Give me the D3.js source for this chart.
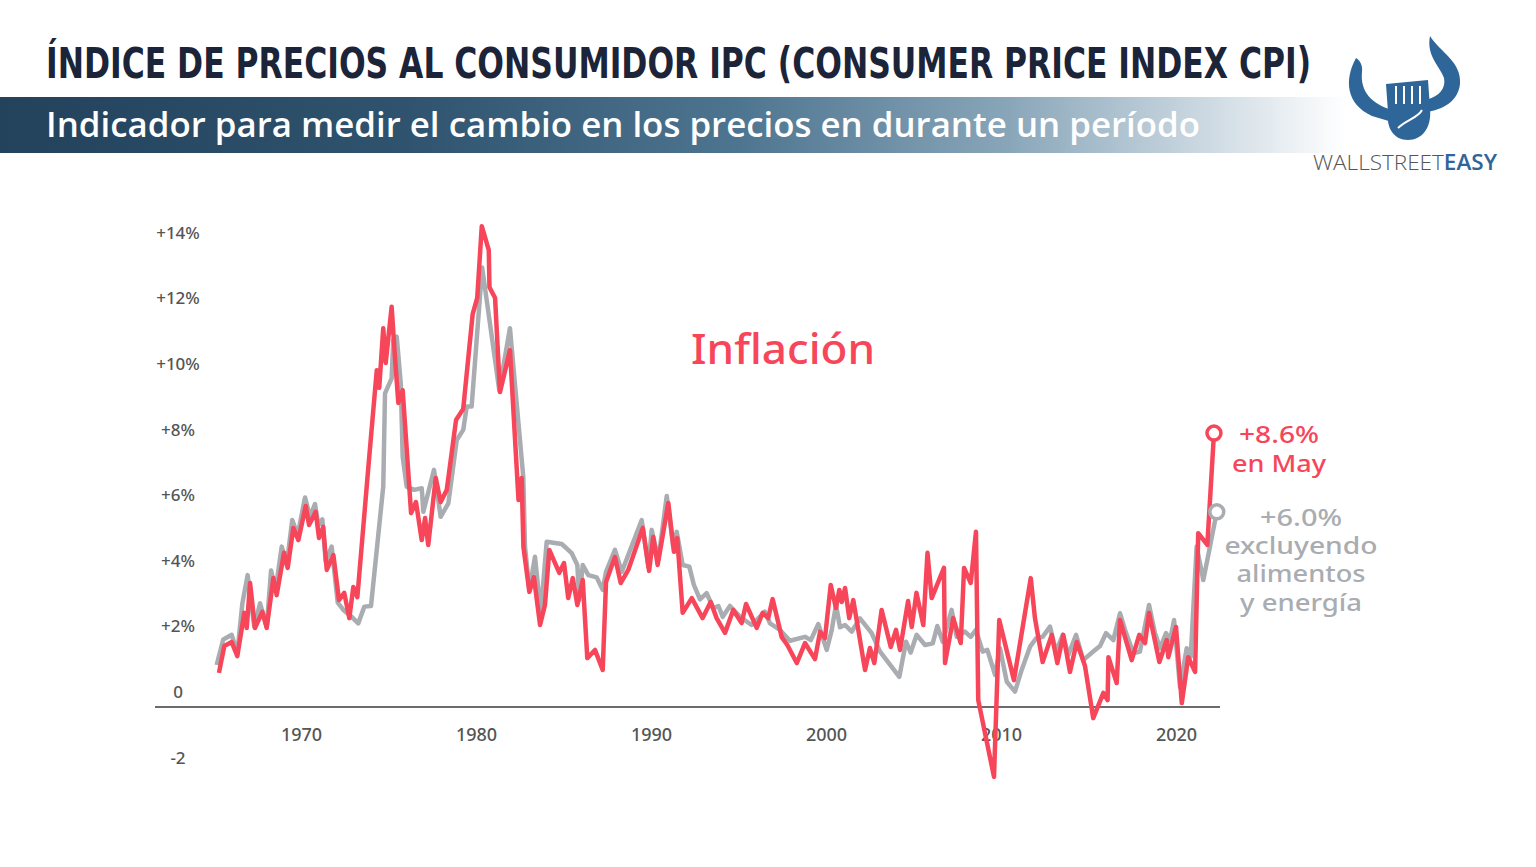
<!DOCTYPE html>
<html><head><meta charset="utf-8">
<script src="https://cdn.jsdelivr.net/npm/d3@7"></script>
<style>body{margin:0;background:#fff;} svg{display:block}</style>
</head><body><svg id="c" width="1536" height="867"></svg>
<script>
// ---------- DATA ----------
const redYears = [1965.31,1965.62,1966.04,1966.36,1966.76,1966.90,1967.09,1967.37,1967.79,1968.04,1968.42,1968.61,1969.03,1969.24,1969.56,1969.85,1970.27,1970.46,1970.84,1971.03,1971.27,1971.47,1971.85,1972.17,1972.47,1972.76,1972.99,1973.22,1973.85,1974.33,1974.47,1974.70,1974.84,1975.18,1975.37,1975.56,1975.81,1976.29,1976.57,1976.90,1977.09,1977.27,1977.70,1977.98,1978.33,1978.86,1979.27,1979.81,1980.07,1980.33,1980.73,1980.77,1981.09,1981.37,1981.94,1982.43,1982.61,1982.71,1983.05,1983.31,1983.66,1983.94,1984.19,1984.76,1985.03,1985.27,1985.53,1985.79,1986.10,1986.36,1986.80,1987.24,1987.43,1987.94,1988.27,1988.70,1989.53,1989.89,1990.13,1990.38,1990.99,1991.31,1991.50,1991.81,1992.33,1992.95,1993.41,1993.75,1994.23,1994.70,1995.18,1995.43,1996.04,1996.38,1996.70,1996.95,1997.47,1997.79,1998.33,1998.80,1999.37,1999.66,1999.94,2000.27,2000.57,2000.76,2000.90,2001.09,2001.33,2001.56,2002.23,2002.51,2002.76,2003.18,2003.70,2004.00,2004.23,2004.69,2004.90,2005.17,2005.56,2005.80,2006.04,2006.74,2006.80,2007.27,2007.70,2007.89,2008.27,2008.57,2008.70,2009.60,2009.90,2010.74,2011.70,2011.94,2012.38,2012.90,2013.22,2013.56,2013.94,2014.33,2014.80,2015.27,2015.85,2016.09,2016.14,2016.61,2016.80,2017.47,2017.90,2018.23,2018.46,2019.05,2019.47,2019.56,2020.00,2020.33,2020.70,2021.09,2021.27,2021.79,2022.17];
const redValues = [1.04,1.86,1.98,1.55,2.87,2.41,3.78,2.41,2.90,2.41,3.93,3.41,4.70,4.24,5.46,5.09,6.13,5.55,5.95,5.15,5.49,4.18,4.63,3.26,3.48,2.71,3.66,3.35,7.32,10.27,9.73,11.55,10.49,12.20,10.67,9.27,9.66,5.91,6.25,5.09,5.76,4.94,6.98,6.25,6.62,8.75,9.09,11.98,12.47,14.66,13.93,12.80,12.47,9.60,10.88,6.31,6.98,4.88,3.51,3.96,2.50,3.11,4.79,4.09,4.39,3.32,3.93,3.11,3.87,1.49,1.74,1.13,3.81,4.57,3.78,4.18,5.46,4.15,5.18,4.33,6.22,4.73,5.15,2.87,3.32,2.71,3.20,2.71,2.26,2.96,2.56,3.14,2.41,2.87,2.71,3.29,2.13,1.89,1.34,1.95,1.46,2.29,2.10,3.72,3.02,3.57,3.20,3.63,2.71,3.26,1.13,1.80,1.34,2.96,1.83,2.35,1.74,3.23,2.44,3.48,2.50,4.70,3.32,4.24,1.34,2.71,1.95,4.24,3.78,5.34,0.21,-2.13,2.65,0.82,3.93,2.71,1.37,2.20,1.34,2.20,1.07,1.98,1.25,-0.34,0.43,0.21,1.52,0.73,2.65,1.43,2.20,1.95,2.87,1.37,2.04,1.52,2.44,0.12,1.52,1.07,5.30,4.94,8.35];

const grayYears = [1965.18,1965.56,1966.04,1966.36,1966.65,1966.95,1967.33,1967.66,1968.04,1968.29,1968.55,1968.90,1969.18,1969.50,1969.81,1970.23,1970.51,1970.80,1970.99,1971.22,1971.41,1971.75,1972.10,1972.42,1972.90,1973.27,1973.62,1974.00,1974.70,1974.80,1975.18,1975.27,1975.47,1975.70,1975.81,1976.04,1976.46,1976.90,1976.99,1977.60,1977.98,1978.42,1978.90,1979.27,1979.47,1979.75,1980.35,1980.61,1981.33,1981.94,1982.70,1982.80,1983.05,1983.37,1983.70,1984.04,1984.90,1985.47,1985.79,1985.90,1986.10,1986.42,1986.90,1987.24,1987.43,1987.94,1988.33,1989.47,1989.85,1990.04,1990.42,1990.90,1991.27,1991.47,1991.81,1992.19,1992.45,1992.80,1993.18,1993.56,1993.85,1994.10,1994.51,1995.09,1995.75,1996.51,1996.80,1997.37,1997.94,1998.80,1999.13,1999.56,2000.04,2000.33,2000.57,2000.80,2001.09,2001.47,2001.94,2002.61,2003.09,2004.19,2004.57,2004.84,2005.18,2005.66,2006.10,2006.36,2006.67,2007.18,2007.47,2007.94,2008.27,2008.57,2008.95,2009.22,2009.66,2009.94,2010.33,2010.80,2011.18,2011.66,2012.00,2012.38,2012.80,2013.14,2013.53,2013.85,2014.29,2014.70,2015.27,2015.66,2016.00,2016.42,2016.80,2017.09,2017.56,2017.94,2018.46,2018.80,2019.09,2019.43,2019.66,2019.89,2020.23,2020.61,2020.84,2021.18,2021.56,2021.94,2022.33];
const grayValues = [1.28,2.06,2.20,1.64,3.16,4.02,2.45,3.16,2.45,4.16,3.57,4.89,4.33,5.70,5.24,6.39,5.80,6.19,5.55,5.72,4.43,4.89,3.18,2.96,2.75,2.55,3.06,3.08,6.72,9.56,10.02,11.19,11.29,9.87,7.63,6.72,6.62,6.67,5.95,7.23,5.80,6.21,8.14,8.45,9.16,9.16,13.40,12.41,9.66,11.55,7.02,4.89,3.57,4.58,2.86,5.04,4.97,4.69,4.33,3.26,4.33,4.02,3.95,3.57,4.12,4.79,4.12,5.70,4.28,5.40,4.48,6.43,4.89,5.34,4.33,4.28,3.72,3.28,3.47,3.01,3.08,2.75,3.08,2.75,2.50,2.91,2.55,2.35,2.02,2.14,2.04,2.53,1.74,2.35,3.11,2.43,2.50,2.30,2.70,2.25,1.69,0.92,1.99,1.66,2.20,1.89,1.94,2.47,1.99,2.96,2.14,2.30,2.14,2.35,1.69,1.74,0.98,1.79,0.77,0.47,1.13,1.84,2.09,2.14,2.45,1.69,2.20,1.59,2.20,1.43,1.69,1.86,2.25,2.04,2.86,2.35,1.64,1.69,3.11,2.25,1.79,2.25,2.04,2.65,0.60,1.79,1.53,4.89,3.87,4.89,5.95];

const xTickYears = [1970,1980,1990,2000,2010,2020];
const yTickValues = [14,12,10,8,6,4,2,0,-2];
const yTickLabels = ["+14%","+12%","+10%","+8%","+6%","+4%","+2%","0","-2"];

const titleText = "ÍNDICE DE PRECIOS AL CONSUMIDOR IPC (CONSUMER PRICE INDEX CPI)";
const subtitleText = "Indicador para medir el cambio en los precios en durante un período";
const seriesLabel = "Inflación";
const redNote = ["+8.6%","en May"];
const grayNote = ["+6.0%","excluyendo","alimentos","y energía"];

// ---------- DRAW ----------
const svg = d3.select("#c");
const RED = "#f7455a", GRAY = "#a9acb0";

const x = d3.scaleLinear().domain([1970,2020]).range([301,1176]);
const y = d3.scaleLinear().domain([0,14]).range([707,707-14*32.8]);

// header
const defs = svg.append("defs");
const grad = defs.append("linearGradient").attr("id","bann").attr("x1","0").attr("x2","1").attr("y1","0").attr("y2","0");
[[0,"#23425c"],[0.3,"#2f536e"],[0.55,"#4e7590"],[0.75,"#89a6b9"],[0.88,"#c4d3dd"],[1,"#ffffff"]]
  .forEach(([o,c])=>grad.append("stop").attr("offset",o).attr("stop-color",c));
svg.append("rect").attr("x",0).attr("y",97).attr("width",1345).attr("height",56).attr("fill","url(#bann)");

svg.append("text").attr("x",46).attr("y",78).text(titleText)
  .attr("font-family","'Liberation Sans Narrow','DejaVu Sans Condensed',sans-serif")
  .attr("font-weight","bold").attr("font-size",42).attr("fill","#1b2438")
  .attr("textLength",1265).attr("lengthAdjust","spacingAndGlyphs");

svg.append("text").attr("x",46).attr("y",137).text(subtitleText)
  .attr("font-family","'Open Sans',sans-serif").attr("font-weight",600).attr("font-size",35).attr("fill","#ffffff")
  .attr("textLength",1154).attr("lengthAdjust","spacingAndGlyphs");

// logo
const logo = svg.append("g").attr("fill","#2f6699");
logo.append("path").attr("d","M1356,58 C1344,80 1346,104 1372,116 L1392,122 L1392,110 C1372,104 1360,92 1362,72 C1363,66 1360,60 1356,58 Z");
logo.append("path").attr("d","M1430,36 C1440,52 1462,62 1460,84 C1458,102 1442,110 1426,112 L1426,100 C1440,96 1446,88 1444,78 C1440,66 1426,56 1430,36 Z");
logo.append("path").attr("d","M1386,84 L1428,80 L1430,108 C1432,128 1422,140 1408,140 C1394,140 1386,128 1388,112 Z");
const fist = svg.append("g").attr("stroke","#ffffff").attr("stroke-width",2).attr("fill","none");
[1396,1404,1412,1420].forEach(fx=>fist.append("line").attr("x1",fx).attr("x2",fx).attr("y1",86).attr("y2",104));
fist.append("path").attr("d","M1398,128 C1406,120 1418,118 1422,110");
const lt = svg.append("text").attr("x",1313).attr("y",170).attr("font-family","'Open Sans',sans-serif").attr("font-size",21)
  .attr("textLength",184).attr("lengthAdjust","spacingAndGlyphs");
lt.append("tspan").text("WALLSTREET").attr("fill","#555").attr("font-weight",300);
lt.append("tspan").text("EASY").attr("fill","#2f6699").attr("font-weight",600);

// axes
const yAxis = d3.axisLeft(y).tickValues(yTickValues).tickSize(0).tickPadding(0)
  .tickFormat((d,i)=>yTickLabels[i]);
const gy = svg.append("g").attr("transform","translate(178,0)").call(yAxis);
gy.select(".domain").remove();
gy.selectAll("text").attr("x",0).attr("y",-15).attr("text-anchor","middle")
  .attr("font-family","'Noto Sans',sans-serif").attr("font-weight",500).attr("font-size",17).attr("fill","#555");

const xAxis = d3.axisBottom(x).tickValues(xTickYears).tickSize(0).tickPadding(21).tickFormat(d3.format("d"));
const gx = svg.append("g").attr("transform",`translate(0,${y(0)})`).call(xAxis);
gx.select(".domain").remove();
gx.selectAll("text").attr("font-family","'Noto Sans',sans-serif").attr("font-weight",500).attr("font-size",18).attr("fill","#555");
svg.append("line").attr("x1",155).attr("x2",1220).attr("y1",y(0)).attr("y2",y(0))
  .attr("stroke","#6b6b6b").attr("stroke-width",2);

// lines
const line = d3.line().x(d=>x(d[0])).y(d=>y(d[1])).curve(d3.curveLinear);
const grayData = grayYears.map((t,i)=>[t,grayValues[i]]);
const redData = redYears.map((t,i)=>[t,redValues[i]]);
svg.append("path").datum(grayData).attr("d",line).attr("fill","none").attr("stroke",GRAY)
  .attr("stroke-width",4.5).attr("stroke-linejoin","round");
svg.append("path").datum(redData).attr("d",line).attr("fill","none").attr("stroke",RED)
  .attr("stroke-width",4.5).attr("stroke-linejoin","round");

const gEnd = grayData[grayData.length-1], rEnd = redData[redData.length-1];
svg.append("circle").attr("cx",x(gEnd[0])).attr("cy",y(gEnd[1])).attr("r",7)
  .attr("fill","#fff").attr("stroke",GRAY).attr("stroke-width",3.5);
svg.append("circle").attr("cx",x(rEnd[0])).attr("cy",y(rEnd[1])).attr("r",7)
  .attr("fill","#fff").attr("stroke",RED).attr("stroke-width",3.5);

// labels
const annFont = "'Noto Sans',sans-serif";
svg.append("text").attr("x",783).attr("y",364).attr("text-anchor","middle").text(seriesLabel)
  .attr("font-family",annFont).attr("font-weight",500).attr("font-size",42).attr("fill",RED)
  .attr("textLength",184).attr("lengthAdjust","spacingAndGlyphs");
const redW=[80,94], redYs=[443,472];
redNote.forEach((t,i)=>svg.append("text").attr("x",1279).attr("y",redYs[i]).attr("text-anchor","middle").text(t)
  .attr("font-family",annFont).attr("font-weight",500).attr("font-size",23).attr("fill",RED)
  .attr("textLength",redW[i]).attr("lengthAdjust","spacingAndGlyphs"));
const grayW=[82,153,129,122], grayYs=[526,554,582,611];
grayNote.forEach((t,i)=>svg.append("text").attr("x",1301).attr("y",grayYs[i]).attr("text-anchor","middle").text(t)
  .attr("font-family",annFont).attr("font-weight",500).attr("font-size",23).attr("fill",GRAY)
  .attr("textLength",grayW[i]).attr("lengthAdjust","spacingAndGlyphs"));
</script></body></html>
